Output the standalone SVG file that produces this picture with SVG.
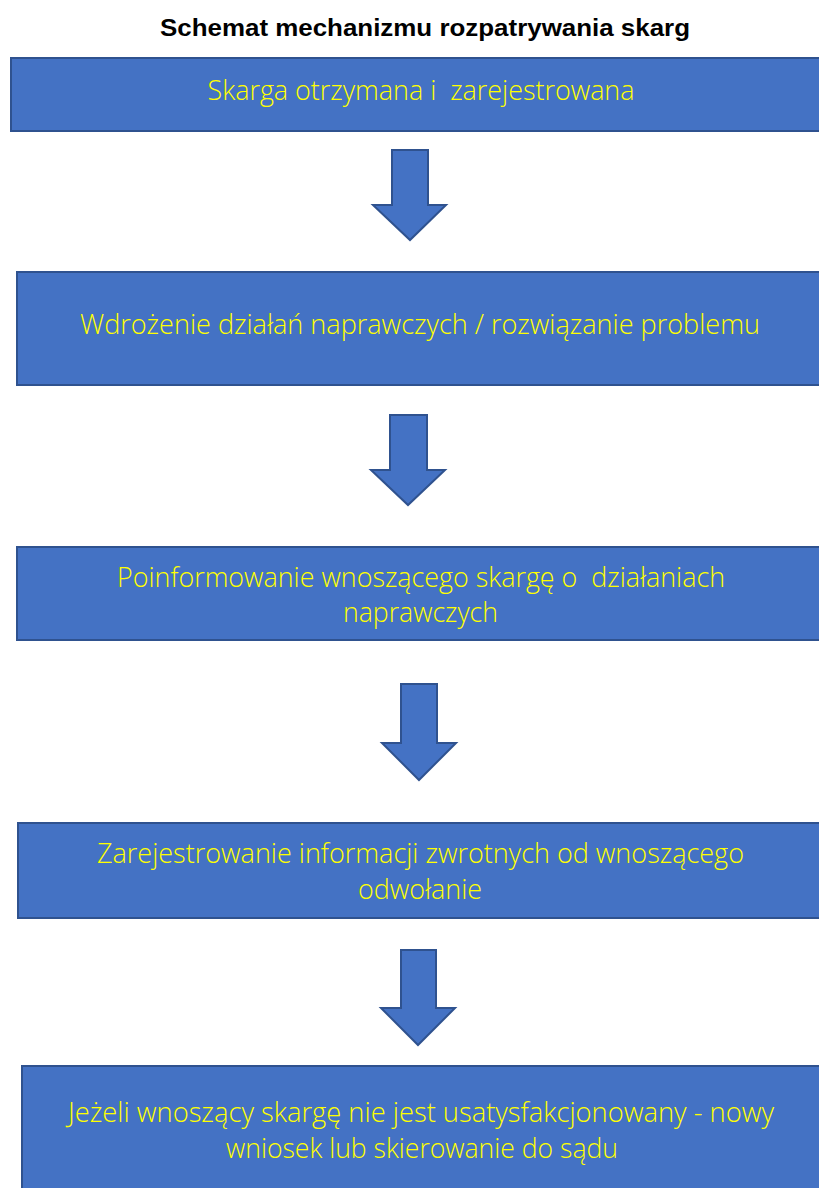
<svg xmlns="http://www.w3.org/2000/svg" width="819" height="1188" viewBox="0 0 819 1188">
<style>
.box{fill:#4472C4;stroke:#2F528F;stroke-width:2}
.arr{fill:#4472C4;stroke:#2F528F;stroke-width:2;stroke-linejoin:miter}
.t{font-family:"Open Sans","Liberation Sans",sans-serif;font-weight:300;font-size:27px;fill:#FFFF00;text-anchor:middle;white-space:pre}
.title{font-family:"Liberation Sans",Arial,sans-serif;font-weight:bold;font-size:23px;fill:#000;text-anchor:middle}
</style>
<rect width="819" height="1188" fill="#fff"/>
<text class="title" x="425" y="36" textLength="530" lengthAdjust="spacingAndGlyphs">Schemat mechanizmu rozpatrywania skarg</text>
<g id="connectors">
<polygon class="arr" points="392,150 428,150 428,205 446,205 410,240 373,205 392,205"/>
<polygon class="arr" points="390,415 427,415 427,470 445,470 408,505 371,470 390,470"/>
<polygon class="arr" points="401,684 437,684 437,743 456,743 419,780 382,743 401,743"/>
<polygon class="arr" points="401,950 436,950 436,1008 455,1008 418,1045 381,1008 401,1008"/>
</g>
<g id="n1">
<rect class="box" x="11" y="58" width="820" height="73"/>
<text class="t" x="421" y="100" textLength="427" lengthAdjust="spacingAndGlyphs" xml:space="preserve">Skarga otrzymana i  zarejestrowana</text>
</g>
<g id="n2">
<rect class="box" x="17" y="272" width="820" height="113"/>
<text class="t" x="420" y="334" textLength="680" lengthAdjust="spacingAndGlyphs">Wdrożenie działań naprawczych / rozwiązanie problemu</text>
</g>
<g id="n3">
<rect class="box" x="17" y="547" width="820" height="93"/>
<text class="t" x="421" y="587" textLength="608" lengthAdjust="spacingAndGlyphs" xml:space="preserve">Poinformowanie wnoszącego skargę o  działaniach</text>
<text class="t" x="420.5" y="622" textLength="155" lengthAdjust="spacingAndGlyphs">naprawczych</text>
</g>
<g id="n4">
<rect class="box" x="18" y="823" width="820" height="95"/>
<text class="t" x="420.5" y="863" textLength="647" lengthAdjust="spacingAndGlyphs">Zarejestrowanie informacji zwrotnych od wnoszącego</text>
<text class="t" x="420" y="899" textLength="124" lengthAdjust="spacingAndGlyphs">odwołanie</text>
</g>
<g id="n5">
<rect class="box" x="22" y="1066" width="820" height="140"/>
<text class="t" x="421" y="1122" textLength="706" lengthAdjust="spacingAndGlyphs">Jeżeli wnoszący skargę nie jest usatysfakcjonowany - nowy</text>
<text class="t" x="422" y="1158" textLength="392" lengthAdjust="spacingAndGlyphs">wniosek lub skierowanie do sądu</text>
</g>
</svg>
